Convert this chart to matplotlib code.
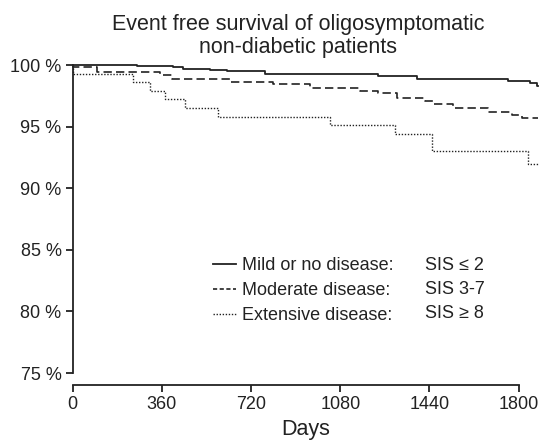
import matplotlib
matplotlib.use("Agg")
import matplotlib.pyplot as plt
from matplotlib.lines import Line2D

plt.rcParams['font.family'] = ['Liberation Sans', 'DejaVu Sans']

# Step points: (day, survival %), value holds from that day onwards
mild_days = [0, 258, 405, 446, 554, 622, 776, 1232, 1388, 1757, 1845, 1873, 1878]
mild_surv = [100.0, 99.9, 99.8, 99.7, 99.6, 99.5, 99.25, 99.1, 98.86, 98.7, 98.5, 98.3, 98.3]

mod_days = [0, 3, 97, 352, 400, 636, 809, 958, 1160, 1233, 1309, 1423, 1455, 1536, 1677, 1772, 1812, 1878]
mod_surv = [100.0, 99.8, 99.45, 99.2, 98.9, 98.65, 98.43, 98.16, 97.9, 97.7, 97.35, 97.1, 96.8, 96.5, 96.2, 95.95, 95.67, 95.67]

ext_days = [0, 3, 245, 312, 373, 454, 587, 1039, 1301, 1450, 1838, 1878]
ext_surv = [100.0, 99.3, 98.65, 97.9, 97.2, 96.55, 95.8, 95.1, 94.37, 93.0, 92.0, 92.0]

x_ticks = [0, 360, 720, 1080, 1440, 1800]
y_ticks = [75, 80, 85, 90, 95, 100]
y_labels = ["75 %", "80 %", "85 %", "90 %", "95 %", "100 %"]
groups = ["Mild or no disease:", "Moderate disease:", "Extensive disease:"]
scores = ["SIS \u2264 2", "SIS 3-7", "SIS \u2265 8"]

col = "#222222"
fig = plt.figure(figsize=(5.39, 4.42), dpi=100)
W, H = 539, 442
left, right, top, bottom = 72.7, 538, 65, 373
ax = fig.add_axes([left / W, 1 - bottom / H, (right - left) / W, (bottom - top) / H])

ax.step(mild_days, mild_surv, where='post', color=col, lw=1.3, ls='-', clip_on=False)
ax.step(mod_days, mod_surv, where='post', color=col, lw=1.2, ls=(0, (5, 2.5)), clip_on=False)
ax.step(ext_days, ext_surv, where='post', color=col, lw=1.0, ls=(0, (1, 1.2)), clip_on=False)

ax.set_xlim(0, 1878)
ax.set_ylim(75, 100)
ax.set_xticks(x_ticks)
ax.set_yticks(y_ticks)
ax.set_yticklabels(y_labels)
for s in ['top', 'right']:
    ax.spines[s].set_visible(False)
ax.spines['bottom'].set_position(('outward', 8.6))
ax.spines['bottom'].set_bounds(0, 1800)
ax.spines['left'].set_bounds(75, 100)
for s in ['left', 'bottom']:
    ax.spines[s].set_color(col)
    ax.spines[s].set_linewidth(1.3)
ax.tick_params(colors=col, labelsize=13, length=5, width=1.3, pad=3)
ax.set_xlabel("Days", fontsize=15.5, color=col, labelpad=4)

fig.text(298 / W, 1 - 36 / H, "Event free survival of oligosymptomatic\nnon-diabetic patients",
         ha='center', va='center', fontsize=15.5, color=col, linespacing=1.1)

handles = [Line2D([], [], color=col, lw=1.3, ls='-'),
           Line2D([], [], color=col, lw=1.2, ls=(0, (2.5, 1.5))),
           Line2D([], [], color=col, lw=1.0, ls=(0, (1, 1.2)))]
leg = ax.legend(handles, groups, loc='upper left',
                bbox_to_anchor=((213 - left) / (right - left), 1 - (257.5 - top) / (bottom - top)),
                frameon=False, fontsize=13, handlelength=1.25, handletextpad=0.33, labelspacing=0.43,
                borderaxespad=0, borderpad=0, labelcolor=col)

row_y = [265, 289.5, 314]
for yy, s in zip(row_y, scores):
    fig.text(425 / W, 1 - yy / H, s, ha='left', va='center', fontsize=13, color=col)

fig.savefig("out.png", dpi=100)
